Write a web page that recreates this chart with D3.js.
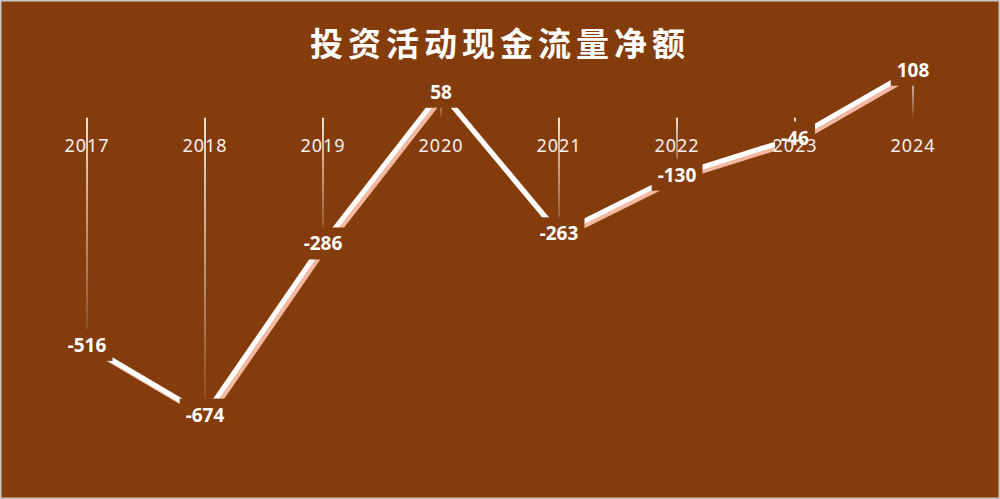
<!DOCTYPE html>
<html>
<head>
<meta charset="utf-8">
<script src="https://cdn.jsdelivr.net/npm/d3@7"></script>
<style>
  html, body { margin: 0; padding: 0; background: #fff; }
  svg { display: block; }
</style>
</head>
<body>
<svg id="chart"></svg>
<script>
// data
const years = ["2017", "2018", "2019", "2020", "2021", "2022", "2023", "2024"];
const values = [-516, -674, -286, 58, -263, -130, -46, 108];
const title = "投资活动现金流量净额";

const W = 1000, H = 499;
const bg = "#843C0C";

const svg = d3.select("#chart")
    .attr("width", W)
    .attr("height", H);

svg.append("rect")
    .attr("x", 0.75).attr("y", 0.75)
    .attr("width", W - 1.5).attr("height", H - 1.5)
    .style("fill", bg)
    .style("stroke", "#c8c8c8")
    .style("stroke-width", 1.5);

const x = d3.scalePoint()
    .domain(years)
    .range([28, 972])
    .padding(0.5);

const y = d3.scaleLinear()
    .domain([-800, 200])
    .range([470.5, 29.5]);

const pts = years.map((yr, i) => ({ yr: yr, v: values[i], x: x(yr), y: y(values[i]) }));

// title
svg.append("text")
    .attr("x", W / 2)
    .attr("y", 56)
    .attr("text-anchor", "middle")
    .style("font-family", "'Noto Sans CJK SC', sans-serif")
    .style("font-weight", "bold")
    .style("font-size", "33px")
    .style("letter-spacing", "5px")
    .style("fill", "#fff")
    .text(title);

// drop lines, fading towards the point
const defs = svg.append("defs");
const grad = defs.append("linearGradient")
    .attr("id", "drop")
    .attr("x1", 0).attr("y1", 0).attr("x2", 0).attr("y2", 1);
grad.append("stop").attr("offset", 0).attr("stop-color", "#fff").attr("stop-opacity", 0.85);
grad.append("stop").attr("offset", 1).attr("stop-color", "#fff").attr("stop-opacity", 0.05);

const gDrop = svg.append("g");
pts.forEach(p => {
  const top = Math.min(y(0), p.y), bot = Math.max(y(0), p.y);
  gDrop.append("rect")
      .attr("x", p.x - 1)
      .attr("y", top)
      .attr("width", 2)
      .attr("height", Math.max(bot - top, 0.5))
      .style("fill", "url(#drop)");
});

// line + shadow
const line = d3.line().x(d => d.x).y(d => d.y);

svg.append("path")
    .datum(pts)
    .attr("d", line)
    .attr("transform", "translate(3,3)")
    .style("fill", "none")
    .style("stroke", "#f4b8a0")
    .style("stroke-width", 5)
    .style("stroke-linejoin", "miter");

svg.append("path")
    .datum(pts)
    .attr("d", line)
    .style("fill", "none")
    .style("stroke", "#fff")
    .style("stroke-width", 5)
    .style("stroke-linejoin", "miter");

// data labels with background-coloured boxes
const gLab = svg.append("g");
pts.forEach(p => {
  const g = gLab.append("g");
  const rect = g.append("rect").style("fill", bg);
  const t = g.append("text")
      .attr("x", p.x)
      .attr("y", p.y)
      .attr("dy", "0.35em")
      .attr("text-anchor", "middle")
      .style("font-family", "'Noto Sans', sans-serif")
      .style("font-weight", "bold")
      .style("font-size", "19px")
      .style("fill", "#fff")
      .text(p.v);
  const bb = t.node().getBBox();
  rect.attr("x", bb.x - 6).attr("y", bb.y - 3)
      .attr("width", bb.width + 12).attr("height", bb.height + 6);
});

// category labels
svg.append("g")
  .selectAll("text")
  .data(years)
  .join("text")
    .attr("x", d => x(d))
    .attr("y", 152)
    .attr("text-anchor", "middle")
    .style("font-family", "'Noto Sans', sans-serif")
    .style("font-size", "18px")
    .style("letter-spacing", "1px")
    .style("fill", "#f2f2f2")
    .text(d => d);
</script>
</body>
</html>
